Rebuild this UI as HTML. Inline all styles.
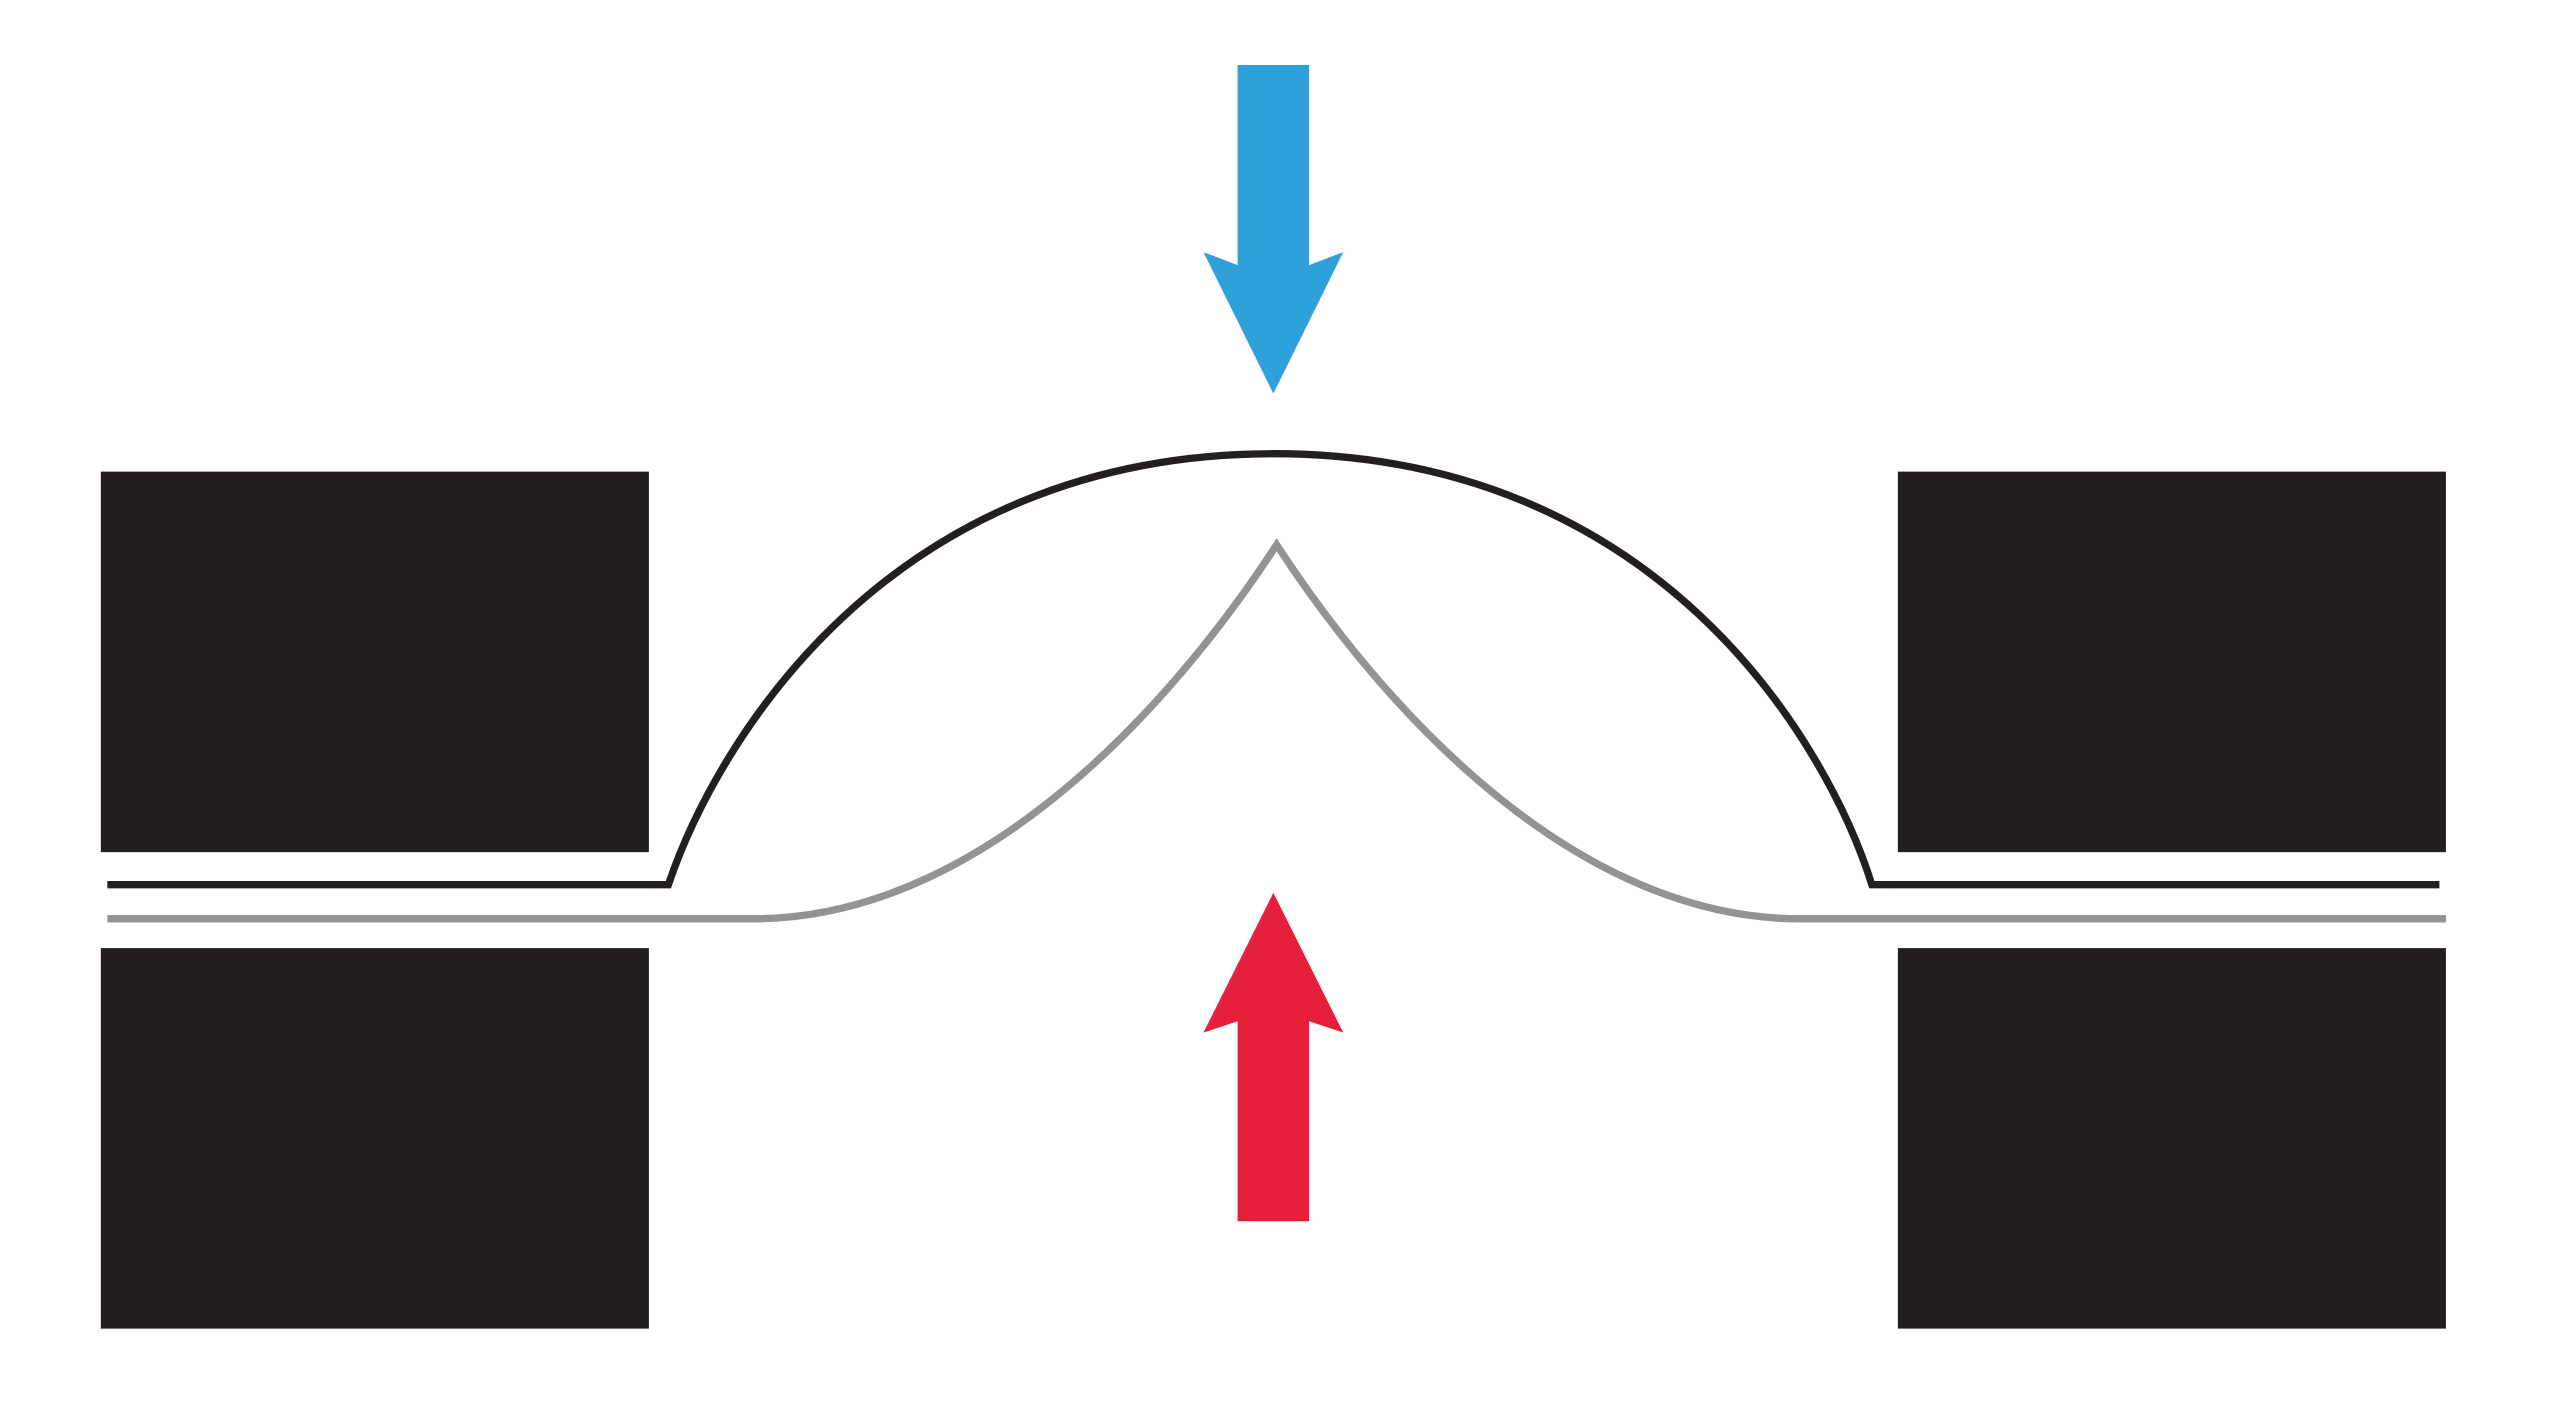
<!DOCTYPE html>
<html><head><meta charset="utf-8"><style>html,body{margin:0;padding:0;background:#fff;}svg{display:block}</style></head>
<body>
<svg width="2550" height="1421" viewBox="0 0 1568 873.8" preserveAspectRatio="none" xmlns="http://www.w3.org/2000/svg">
<rect width="1568" height="874" fill="#fff"/>
<polygon points="761,40 805,40 805,163 826,155 783,242 740,155 761,163" fill="#2fa0da"/>
<polygon points="783,549 826,635 805,628 805,751 761,751 761,628 740,635" fill="#e61f3b"/>
<rect x="62" y="290" width="337" height="234" fill="#231f20"/>
<rect x="62" y="583" width="337" height="234" fill="#231f20"/>
<rect x="1167" y="290" width="337" height="234" fill="#231f20"/>
<rect x="1167" y="583" width="337" height="234" fill="#231f20"/>
<path d="M66,544 L411,544 C440,458 545,279 783,279 C1021,279 1124,458 1151,544 L1500,544" fill="none" stroke="#231f20" stroke-width="4.5"/>
<path d="M783,279 L783,279" stroke="#fff" stroke-width="1"/>
<path d="M66,565 L463,565 C615,565 735,412 785,335 C835,412 955,565 1107,565 L1504,565" fill="none" stroke="#939393" stroke-width="4.5"/>
</svg>
</body></html>
